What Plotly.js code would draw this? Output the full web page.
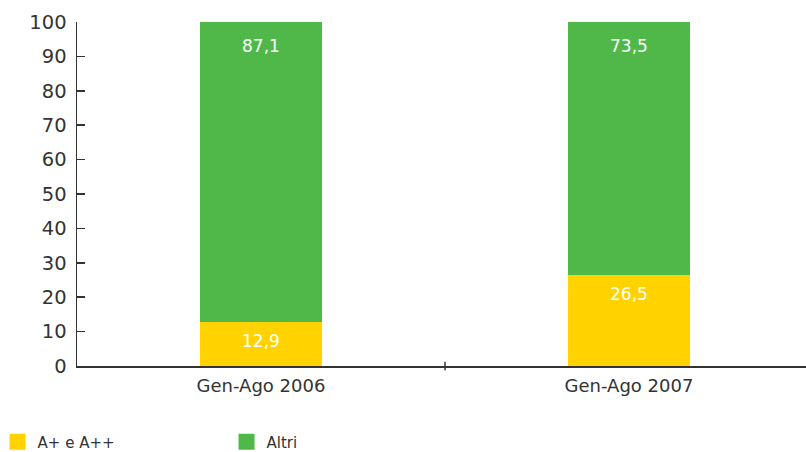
<!DOCTYPE html>
<html><head><meta charset="utf-8">
<script src="https://cdn.plot.ly/plotly-3.0.1.min.js"></script>
<style>html,body{margin:0;padding:0;background:#fff}#chart{width:806px;height:452px}</style>
</head><body><div id="chart"></div>
<script>
const categories = ["Gen-Ago 2006", "Gen-Ago 2007"];
const seriesNames = ["A+ e A++", "Altri"];
const seriesAplus = [12.9, 26.5];
const seriesAltri = [87.1, 73.5];
const colors = ["#FFD200", "#50B848"];
const yTicks = [0,10,20,30,40,50,60,70,80,90,100];

const font = "DejaVu Sans, Verdana, sans-serif";
const barCommon = {
  type: "bar", x: categories, width: 0.33, textposition: "none",
  hoverinfo: "skip", showlegend: false
};
const data = [
  Object.assign({}, barCommon, {y: seriesAplus, name: seriesNames[0], marker: {color: colors[0]}}),
  Object.assign({}, barCommon, {y: seriesAltri, name: seriesNames[1], marker: {color: colors[1]}}),
  {type: "scatter", mode: "markers", x: [null], y: [null], name: seriesNames[0],
   marker: {symbol: "square", size: 20, color: colors[0]}, hoverinfo: "skip"},
  {type: "scatter", mode: "markers", x: [null], y: [null], name: seriesNames[1],
   marker: {symbol: "square", size: 20, color: colors[1]}, hoverinfo: "skip"}
];
// value labels placed at the top of each stacked segment
const fmt = v => v.toFixed(1).replace(".", ",");
const annotations = [];
categories.forEach((c, i) => {
  const tops = [seriesAplus[i], seriesAplus[i] + seriesAltri[i]];
  const vals = [seriesAplus[i], seriesAltri[i]];
  tops.forEach((t, k) => annotations.push({
    x: c, y: t, xref: "x", yref: "y", text: fmt(vals[k]), showarrow: false,
    yanchor: "middle", yshift: k === 0 ? -19 : -24,
    font: {color: "#ffffff", size: 17, family: font}
  }));
});
const layout = {
  width: 806, height: 452,
  margin: {l: 77, r: 0, t: 22, b: 86, autoexpand: false},
  barmode: "stack",
  separators: ",.",
  paper_bgcolor: "#fff", plot_bgcolor: "#fff",
  font: {family: font, color: "#333333", size: 17},
  xaxis: {
    type: "category", range: [-0.5, 1.481],
    showline: true, linecolor: "#333333", linewidth: 1.5,
    ticks: "", showgrid: false, zeroline: false, ticklabelstandoff: 3,
    tickfont: {size: 18, color: "#333333"}
  },
  yaxis: {
    range: [0, 100], tickvals: yTicks,
    showline: true, linecolor: "#333333", linewidth: 1.5,
    ticks: "inside", ticklen: 8, tickcolor: "#333333", tickwidth: 1.5,
    showgrid: false, zeroline: false, ticklabelstandoff: 5,
    tickfont: {size: 19.5, color: "#333333"}
  },
  annotations: annotations,
  shapes: [{type: "line", xref: "x", yref: "paper", x0: 0.5, x1: 0.5, y0: -0.012, y1: 0.012,
            line: {color: "#333333", width: 1.5}}],
  showlegend: true,
  legend: {orientation: "h", traceorder: "normal", x: -0.109, xanchor: "left", y: -0.221, yanchor: "middle",
           entrywidth: 184, entrywidthmode: "pixels", itemsizing: "trace",
           font: {size: 15, color: "#333333"}}
};
Plotly.newPlot("chart", data, layout, {displayModeBar: false, staticPlot: true});
</script></body></html>
